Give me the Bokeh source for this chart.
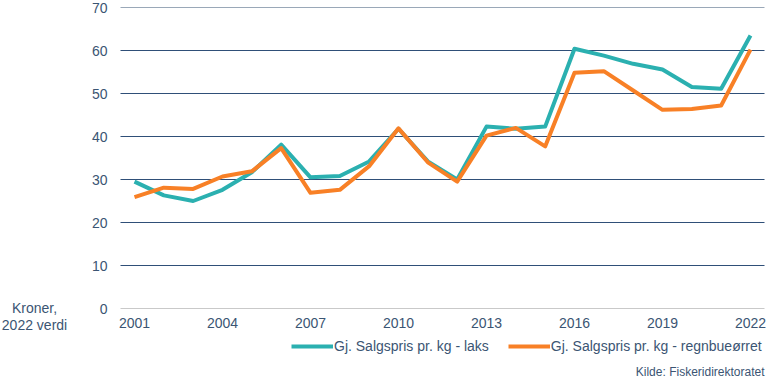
from bokeh.plotting import figure
from bokeh.models import (ColumnDataSource, Legend, LegendItem, Range1d,
                          FixedTicker, Label)
from bokeh.embed import file_html
from bokeh.resources import INLINE

years = list(range(2001, 2023))
laks = [29.5, 26.3, 25.0, 27.6, 31.7, 38.1, 30.5, 30.8, 34.2, 41.8, 34.2, 30.0,
        42.3, 41.8, 42.3, 60.4, 58.8, 56.9, 55.6, 51.5, 51.1, 63.5]
regnbue = [25.9, 28.1, 27.8, 30.7, 31.9, 37.3, 26.9, 27.6, 33.1, 41.9, 34.0, 29.5,
           40.2, 42.0, 37.7, 54.8, 55.2, 50.7, 46.2, 46.4, 47.2, 60.2]
x_ticks = [2001, 2004, 2007, 2010, 2013, 2016, 2019, 2022]
y_ticks = [0, 10, 20, 30, 40, 50, 60, 70]
label_laks = "Gj. Salgspris pr. kg - laks"
label_regnbue = "Gj. Salgspris pr. kg - regnbueørret"
y_title = "Kroner,\n2022 verdi"
source_text = "Kilde: Fiskeridirektoratet"

TEXT = "#3B5573"
FONT = "Liberation Sans"
TEAL = "#2BB0B0"
ORANGE = "#F88026"
W, H = 768, 378

# layout of the plotting area in canvas pixels
PLOT_L, PLOT_R, PLOT_T, PLOT_B = 120, 764, 7, 308
EDGE_PAD = 14  # gap between area edge and first/last year
UNIT_CX = 34   # centre of the unit label
px_year = (PLOT_R - PLOT_L - 2 * EDGE_PAD) / (years[-1] - years[0])
px_unit = (PLOT_B - PLOT_T) / (y_ticks[-1] - y_ticks[0])
x0 = years[0] - (PLOT_L + EDGE_PAD) / px_year
y0 = y_ticks[0] - (H - PLOT_B) / px_unit
grid_x0 = years[0] - EDGE_PAD / px_year
grid_x1 = years[-1] + EDGE_PAD / px_year

src = ColumnDataSource(dict(year=years, laks=laks, regnbue=regnbue))
n = len(y_ticks)
grid_colors = ["#C9C9C9"] + ["#2F4F78"] * (n - 2) + ["#9AA8B8"]
grid_src = ColumnDataSource(dict(y=y_ticks, x0=[grid_x0] * n, x1=[grid_x1] * n,
                                 c=grid_colors))

p = figure(width=W, height=H, output_backend="svg", toolbar_location=None,
           min_border=0, outline_line_color=None)
p.x_range = Range1d(x0, x0 + W / px_year)
p.y_range = Range1d(y0, y0 + H / px_unit)
p.xgrid.visible = False
p.ygrid.visible = False

p.segment(x0="x0", x1="x1", y0="y", y1="y", source=grid_src, line_color="c",
          line_width=1)

r1 = p.line("year", "laks", source=src, line_color=TEAL, line_width=4,
            line_join="round")
r2 = p.line("year", "regnbue", source=src, line_color=ORANGE, line_width=4,
            line_join="round")


def style_axis(ax):
    ax.axis_line_color = None
    ax.major_tick_line_color = None
    ax.minor_tick_line_color = None
    ax.major_tick_out = 0
    ax.minor_tick_out = 0
    ax.major_label_text_color = TEXT
    ax.major_label_text_font = FONT
    ax.major_label_text_font_size = "14px"


xa = p.xaxis[0]
ya = p.yaxis[0]
style_axis(xa)
style_axis(ya)
xa.ticker = FixedTicker(ticks=x_ticks)
ya.ticker = FixedTicker(ticks=y_ticks)
xa.fixed_location = y_ticks[0]
ya.fixed_location = grid_x0
ya.major_label_standoff = 13
xa.major_label_standoff = 9

# unit label, left of the zero tick
p.add_layout(Label(x=x0 + UNIT_CX / px_year, y=y_ticks[0], text="\n" + y_title,
                   text_align="center", text_baseline="middle",
                   text_line_height=1.05, text_font=FONT,
                   text_font_size="14px", text_color=TEXT))

legend = Legend(items=[LegendItem(label=label_laks, renderers=[r1]),
                       LegendItem(label=label_regnbue, renderers=[r2])],
                orientation="horizontal", location=(291, 24),
                padding=0, margin=0, spacing=19, label_standoff=1,
                glyph_width=42, glyph_height=16, label_height=16,
                border_line_color=None, background_fill_alpha=0,
                label_text_font=FONT, label_text_font_size="14px",
                label_text_color=TEXT)
p.add_layout(legend, "center")

p.add_layout(Label(x=grid_x1, y=y0, text=source_text, text_align="right",
                   text_baseline="bottom", text_font=FONT,
                   text_font_size="12px", text_color=TEXT))

open("out.html", "w").write(file_html(p, INLINE))
